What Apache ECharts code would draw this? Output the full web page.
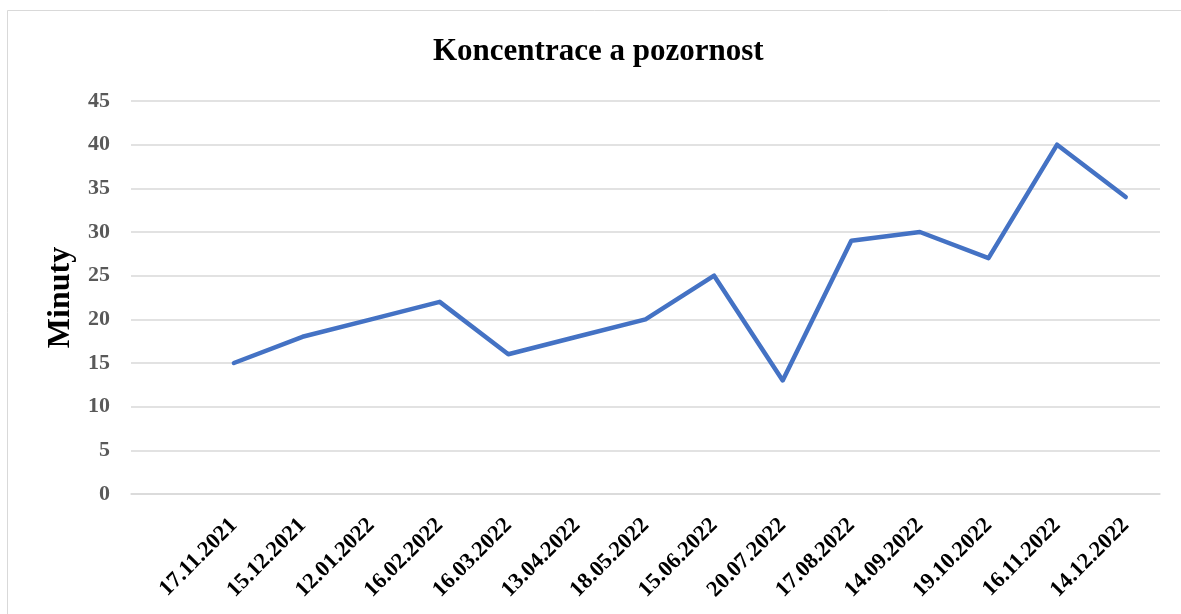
<!DOCTYPE html>
<html>
<head>
<meta charset="utf-8">
<script src="https://cdn.jsdelivr.net/npm/echarts@6/dist/echarts.min.js"></script>
<style>
  html, body { margin: 0; padding: 0; background: #fff; }
  #main { width: 1181px; height: 614px; }
</style>
</head>
<body>
<div id="main"></div>
<script>
// first category is left empty in the original chart
var dates = ['', '17.11.2021', '15.12.2021', '12.01.2022', '16.02.2022', '16.03.2022',
  '13.04.2022', '18.05.2022', '15.06.2022', '20.07.2022', '17.08.2022',
  '14.09.2022', '19.10.2022', '16.11.2022', '14.12.2022'];
var minutes = ['-', 15, 18, 20, 22, 16, 18, 20, 25, 13, 29, 30, 27, 40, 34];
var yTicks = { min: 0, max: 45, interval: 5 };

var myChart = echarts.init(document.getElementById('main'));
var font = '"Liberation Serif", "Times New Roman", serif';

var option = {
    animation: false,
    backgroundColor: '#fff',
    title: {
        text: 'Koncentrace a pozornost',
        left: 428,
        top: 31,
        textStyle: {
            fontFamily: font,
            fontSize: 31,
            fontWeight: 'bold',
            color: '#000'
        }
    },
    graphic: [{
        type: 'rect',
        shape: { x: 7.5, y: 10.5, width: 1180, height: 620 },
        style: { fill: 'none', stroke: '#d9d9d9', lineWidth: 1 }
    }],
    grid: {
        left: 131,
        right: 21,
        top: 101,
        bottom: 120
    },
    xAxis: {
        type: 'category',
        data: dates,
        boundaryGap: true,
        axisLine: { lineStyle: { color: '#d9d9d9', width: 1.5 } },
        axisTick: { length: 6, lineStyle: { color: '#d9d9d9', width: 1.5 } },
        axisLabel: {
            interval: 0,
            rotate: 45,
            margin: 28,
            fontFamily: font,
            fontSize: 22.5,
            fontWeight: 'bold',
            color: '#000'
        }
    },
    yAxis: {
        type: 'value',
        min: yTicks.min,
        max: yTicks.max,
        interval: yTicks.interval,
        name: 'Minuty',
        nameLocation: 'middle',
        nameRotate: 90,
        nameGap: 53,
        nameTextStyle: {
            fontFamily: font,
            fontSize: 32,
            fontWeight: 'bold',
            color: '#000'
        },
        axisLine: { show: false },
        axisTick: { show: false },
        axisLabel: {
            margin: 21,
            fontFamily: font,
            fontSize: 22,
            fontWeight: 'bold',
            color: '#595959'
        },
        splitLine: { lineStyle: { color: '#d9d9d9', width: 1.5 } }
    },
    series: [{
        name: 'Minuty',
        type: 'line',
        data: minutes,
        symbol: 'none',
        lineStyle: { color: '#4472C4', width: 4.5, cap: 'round', join: 'round' }
    }]
};

myChart.setOption(option);
</script>
</body>
</html>
